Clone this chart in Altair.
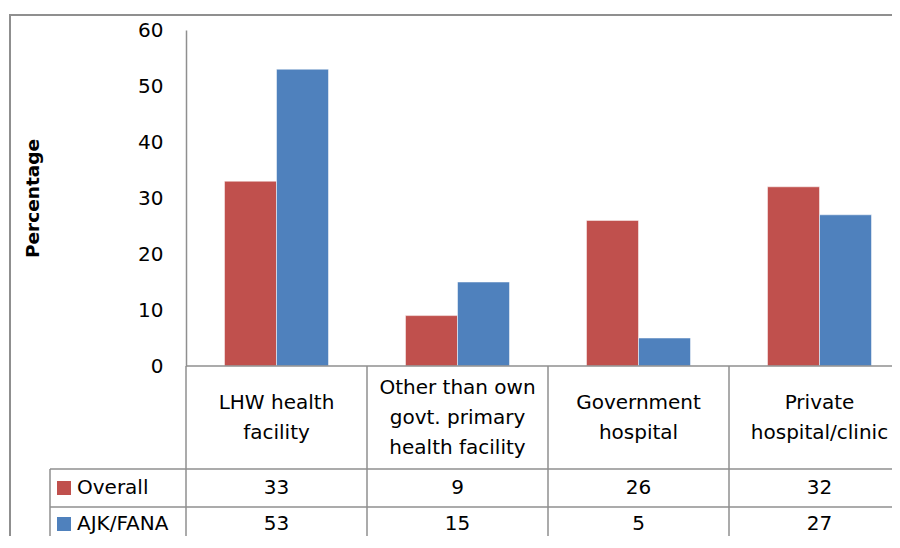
import altair as alt
import pandas as pd

# ---- data ----
categories = [
    "LHW health facility",
    "Other than own govt. primary health facility",
    "Government hospital",
    "Private hospital/clinic",
]
category_label_lines = [
    ["LHW health", "facility"],
    ["Other than own", "govt. primary", "health facility"],
    ["Government", "hospital"],
    ["Private", "hospital/clinic"],
]
series = ["Overall", "AJK/FANA"]
overall = [33, 9, 26, 32]
ajk_fana = [53, 15, 5, 27]
y_ticks = [0, 10, 20, 30, 40, 50, 60]

colors = ["#C0504D", "#4F81BD"]
FONT = "DejaVu Sans"
GRID = "#8f8f8f"
FS = 20

W = 724   # plot width (4 columns)
H = 336   # plot height
ROW_LABEL_MID = 52     # centre of category label row below the axis
LINE_H = 30
ROW1_MID = 122         # centre of "Overall" row
ROW2_MID = 158         # centre of "AJK/FANA" row
LINE1 = 103            # line between label row and Overall row
LINE2 = 141            # line between rows
LINE3 = 180            # bottom line
LEFT_COL = -136        # left edge of the row-header column

long_rows = []
for s, vals in zip(series, [overall, ajk_fana]):
    for c, v in zip(categories, vals):
        long_rows.append({"category": c, "series": s, "value": v})
df = pd.DataFrame(long_rows)

label_rows = []
for c, lines in zip(categories, category_label_lines):
    n = len(lines)
    for i, t in enumerate(lines):
        label_rows.append({"category": c, "text": t,
                           "yy": H + ROW_LABEL_MID + (i - (n - 1) / 2) * LINE_H})
label_df = pd.DataFrame(label_rows)
cat_df = pd.DataFrame({"category": categories})
one = pd.DataFrame({"k": [0]})

x_scale = alt.Scale(domain=categories, paddingInner=0, paddingOuter=0)
color_scale = alt.Scale(domain=series, range=colors)

bars = alt.Chart(df).mark_bar(stroke="white", strokeWidth=1, strokeOpacity=0.5).encode(
    x=alt.X("category:N", sort=categories, scale=x_scale, axis=None),
    xOffset=alt.XOffset("series:N", sort=series,
                        scale=alt.Scale(domain=series, paddingOuter=0.74, paddingInner=0)),
    y=alt.Y("value:Q", scale=alt.Scale(domain=[0, 60], nice=False),
            axis=alt.Axis(values=y_ticks, ticks=False, grid=False, labelPadding=23,
                          labelFont=FONT, labelFontSize=FS, labelColor="#000000",
                          domainColor=GRID, domainWidth=1.5,
                          title="Percentage", titleFont=FONT, titleFontSize=18.5,
                          titleFontWeight="bold", titleColor="#000000",
                          titleAngle=-90, titleX=-154, titleY=168,
                          titleAlign="center", titleBaseline="middle")),
    color=alt.Color("series:N", scale=color_scale, legend=None),
)

# x axis line (zero line)
zero_line = alt.Chart(one).mark_rule(color=GRID, strokeWidth=1.5).encode(
    x=alt.value(0), x2=alt.value(W + 40), y=alt.datum(0)
)

# vertical column separators of the data table
col_lines = alt.Chart(cat_df).mark_rule(color=GRID, strokeWidth=1.5).encode(
    x=alt.X("category:N", sort=categories, scale=x_scale, bandPosition=0),
    y=alt.value(H), y2=alt.value(H + LINE3 + 20),
)
left_line = alt.Chart(one).mark_rule(color=GRID, strokeWidth=1.5).encode(
    x=alt.value(LEFT_COL), y=alt.value(H + LINE1), y2=alt.value(H + LINE3 + 20)
)
h_lines = alt.Chart(pd.DataFrame({"yy": [H + LINE1, H + LINE2, H + LINE3]})).mark_rule(
    color=GRID, strokeWidth=1.5
).encode(
    x=alt.value(LEFT_COL), x2=alt.value(W + 40), y=alt.Y("yy:Q", scale=None)
)

# category labels
cat_text = alt.Chart(label_df).mark_text(
    font=FONT, fontSize=FS, baseline="middle", align="center", color="#000000"
).encode(
    x=alt.X("category:N", sort=categories, scale=x_scale),
    y=alt.Y("yy:Q", scale=None),
    text="text:N",
)

# data values in the table
val_df = df.assign(yy=[H + (ROW1_MID if s == "Overall" else ROW2_MID) for s in df.series])
vals = alt.Chart(val_df).mark_text(
    font=FONT, fontSize=FS, baseline="middle", align="center", color="#000000"
).encode(
    x=alt.X("category:N", sort=categories, scale=x_scale),
    y=alt.Y("yy:Q", scale=None),
    text="value:Q",
)

# row headers (legend keys + names)
key_df = pd.DataFrame({"series": series, "yy": [H + ROW1_MID, H + ROW2_MID]})
keys = alt.Chart(key_df).mark_square(size=196, opacity=1).encode(
    x=alt.value(LEFT_COL + 14),
    y=alt.Y("yy:Q", scale=None),
    color=alt.Color("series:N", scale=color_scale, legend=None),
)
key_text = alt.Chart(key_df).mark_text(
    font=FONT, fontSize=FS, baseline="middle", align="left", color="#000000"
).encode(
    x=alt.value(LEFT_COL + 27),
    y=alt.Y("yy:Q", scale=None),
    text="series:N",
)

# outer chart-area border
border = alt.Chart(one).mark_rect(fill=None, stroke=GRID, strokeWidth=2).encode(
    x=alt.value(-176), x2=alt.value(W + 40), y=alt.value(-15), y2=alt.value(H + 260)
)

chart = alt.layer(
    border, bars, zero_line, col_lines, left_line, h_lines, cat_text, vals, keys, key_text
).properties(
    width=W, height=H,
    autosize=alt.AutoSizeParams(type="none"),
    padding={"left": 178, "top": 22, "right": -18, "bottom": 170},
).configure(background="white").configure_view(stroke=None)

chart.save("out.html", embed_options={"renderer": "svg", "actions": False})
